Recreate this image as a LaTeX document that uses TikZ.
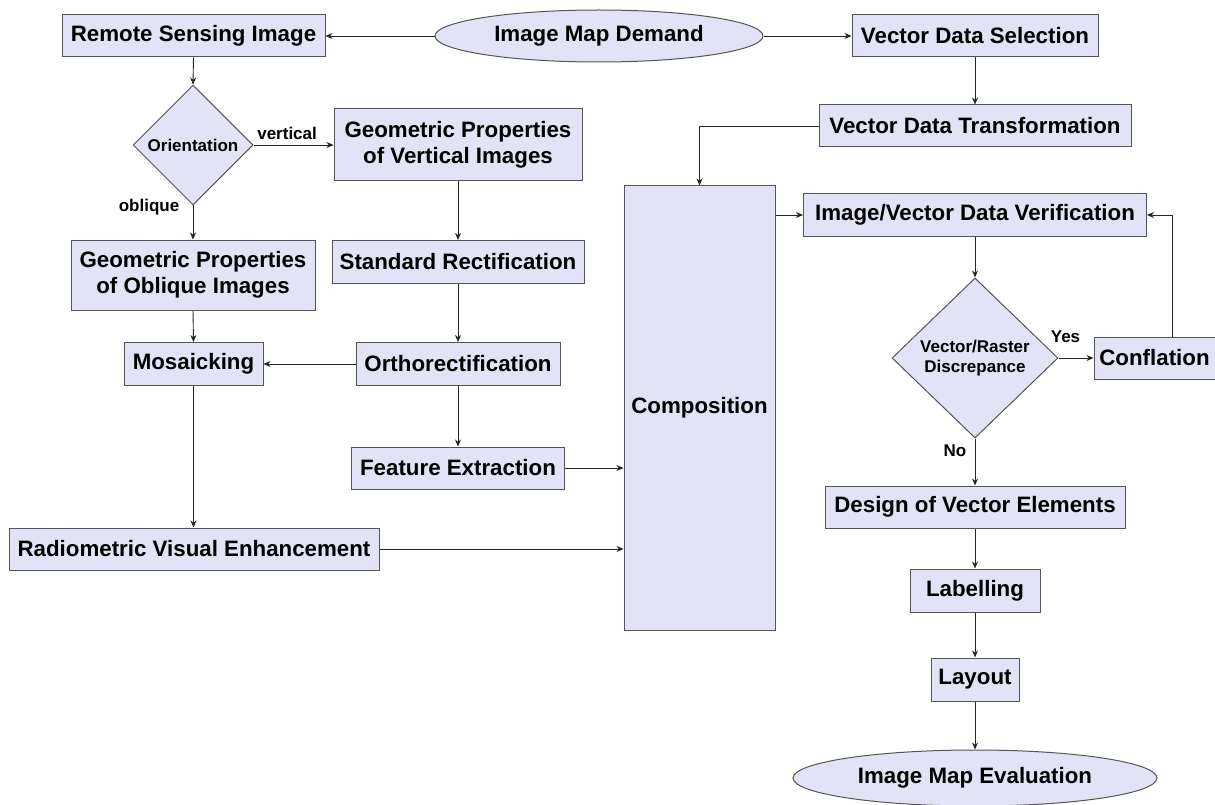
\documentclass[tikz,border=0pt]{standalone}
\usepackage{fontspec}
\setmainfont{Liberation Sans}
\usetikzlibrary{shapes.geometric,arrows.meta}
\definecolor{boxfill}{HTML}{E3E3F7}
\definecolor{boxline}{HTML}{555555}
\begin{document}
\begin{tikzpicture}[x=1pt,y=-1pt,
  box/.style={draw=boxline,fill=boxfill,line width=1pt,inner sep=0pt,align=center,
    font=\fontsize{22.3}{26}\selectfont\bfseries},
  term/.style={box,ellipse},
  dec/.style={draw=boxline,fill=boxfill,line width=1pt,diamond,inner sep=0pt,align=center,
    font=\fontsize{17}{20}\selectfont\bfseries},
  lab/.style={font=\fontsize{17}{20}\selectfont\bfseries},
  arr/.style={draw=black!85,line width=0.9pt,-{Stealth[length=7pt,width=6pt]}}]
\useasboundingbox (0,0) rectangle (1215,805);
\node[box,minimum width=263,minimum height=42] (rsi) at (193.5,36) {Remote Sensing Image};
\node[term,minimum width=328,minimum height=52] (imd) at (599,36) {Image Map Demand};
\node[box,minimum width=246,minimum height=42] (vds) at (975,36) {Vector Data Selection};
\node[box,minimum width=312,minimum height=42] (vdt) at (975,126) {Vector Data Transformation};
\node[dec,minimum width=120,minimum height=120] (ori) at (193,145) {Orientation};
\node[box,minimum width=248,minimum height=72] (gpv) at (458,145) {Geometric Properties\\of Vertical Images};
\node[box,minimum width=244,minimum height=70] (gpo) at (193,275) {Geometric Properties\\of Oblique Images};
\node[box,minimum width=252,minimum height=43] (sr) at (458,262) {Standard Rectification};
\node[box,minimum width=139,minimum height=43] (mos) at (193.5,364) {Mosaicking};
\node[box,minimum width=204,minimum height=43] (ort) at (458,364) {Orthorectification};
\node[box,minimum width=213,minimum height=42] (fe) at (458,468) {Feature Extraction};
\node[box,minimum width=370,minimum height=42] (rve) at (194,549) {Radiometric Visual Enhancement};
\node[box,minimum width=151,minimum height=444] (comp) at (699.5,408) {Composition};
\node[box,minimum width=343,minimum height=42] (ivdv) at (975,215) {Image/Vector Data Verification};
\node[dec,minimum width=166,minimum height=160] (vrd) at (975,358) {Vector/Raster\\Discrepance};
\node[box,minimum width=121,minimum height=42] (conf) at (1154.5,358) {Conflation};
\node[box,minimum width=300,minimum height=42] (dve) at (975,507) {Design of Vector Elements};
\node[box,minimum width=130,minimum height=43] (lab) at (975,590.5) {Labelling};
\node[box,minimum width=88,minimum height=43] (lay) at (975,679.5) {Layout};
\node[term,minimum width=364,minimum height=56] (ime) at (975,778) {Image Map Evaluation};
% connectors
\draw[arr] (imd.west) -- (rsi.east);
\draw[arr] (imd.east) -- (vds.west);
\draw[arr] (vds.south) -- (vdt.north);
\draw[arr] (vdt.west) -| (comp.north);
\draw[arr] (rsi.south) -- (ori.north);
\draw[arr] (ori.east) -- node[lab,above=2pt,pos=0.42] {vertical} (gpv.west);
\draw[arr] (ori.south) -- (gpo.north);
\node[lab] (obl) at (149,207) {oblique};
\draw[arr] (gpv.south) -- (sr.north);
\draw[arr] (gpo.south) -- (mos.north);
\draw[arr] (sr.south) -- (ort.north);
\draw[arr] (ort.west) -- (mos.east);
\draw[arr] (ort.south) -- (fe.north);
\draw[arr] (mos.south) -- (rve.north -| mos.south);
\draw[arr] (fe.east) -- (fe.east -| comp.west);
\draw[arr] (rve.east) -- (rve.east -| comp.west);
\draw[arr] (ivdv.west -| comp.east) -- (ivdv.west);
\draw[arr] (ivdv.south) -- (vrd.north);
\draw[arr] (vrd.east) -- node[lab,above=12pt,pos=0.2] {Yes} (conf.west);
\coordinate (cf) at (1172,337);
\draw[arr] (cf) |- (ivdv.east);
\draw[arr] (vrd.south) -- node[lab,left=5pt,pos=0.25] {No} (dve.north);
\draw[arr] (dve.south) -- (lab.north);
\draw[arr] (lab.south) -- (lay.north);
\draw[arr] (lay.south) -- (ime.north);
\end{tikzpicture}
\end{document}
